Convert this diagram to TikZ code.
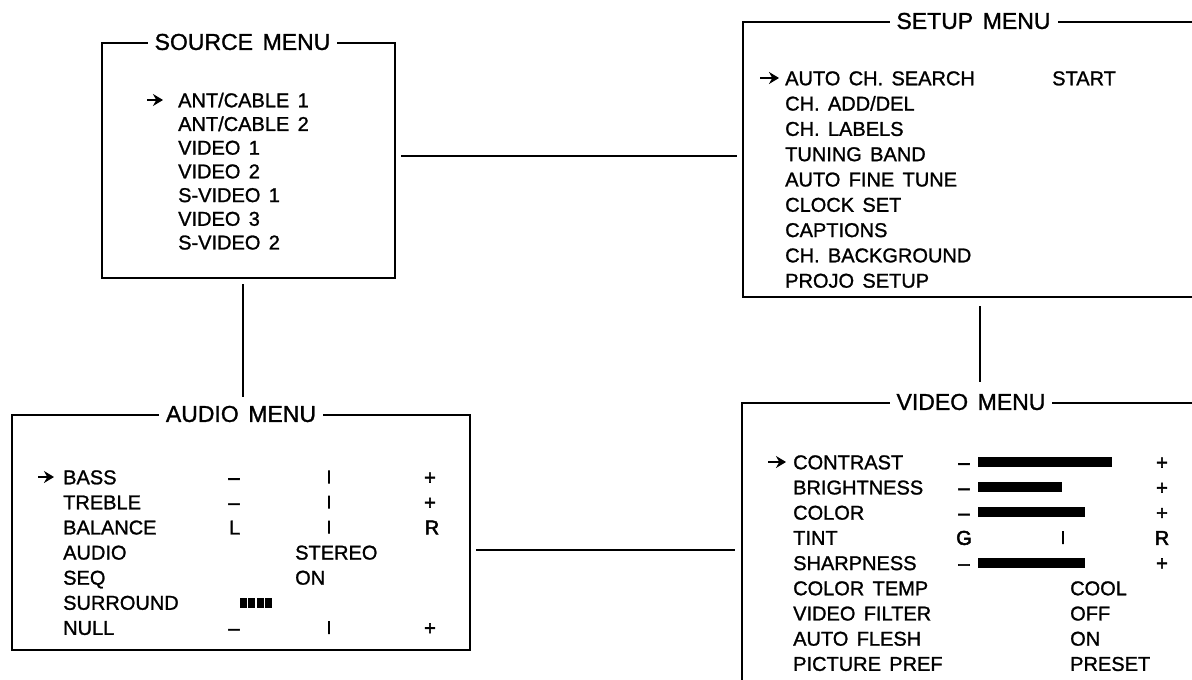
\documentclass[tikz,border=0pt]{standalone}
\usepackage{fontspec}
\setmainfont{Liberation Sans}
\newfontfamily\menufont{Liberation Sans}[FakeBold=1.2, WordSpace=1.5]
\newfontfamily\markfont{Liberation Sans}[FakeBold=2.6]
\newfontfamily\tickfont{Liberation Sans}[FakeBold=7]
\usetikzlibrary{arrows.meta,positioning,calc}

\begin{document}
\begin{tikzpicture}[
  x=1pt, y=-1pt,
  >=Stealth,
  menubox/.style={draw, line width=2pt, inner sep=0pt},
  menutitle/.style={fill=white, font=\menufont\fontsize{23}{23}\selectfont, inner xsep=7pt, inner ysep=2pt},
  item/.style={font=\menufont\fontsize{20}{20}\selectfont, inner sep=0pt, text height=14.5pt, text depth=0pt, anchor=west},
  scalemark/.style={font=\markfont\fontsize{20}{20}\selectfont, inner sep=0pt, text height=14.5pt, text depth=0pt},
  tickmark/.style={font=\tickfont\fontsize{13}{13}\selectfont, inner sep=0pt},
  link/.style={line width=1.6pt},
  pointer/.style={-{Stealth[length=10pt,width=12pt]}, line width=2.6pt}
]
  \clip (0,0) rectangle (1192,680);

  % Boxes
  \node (source) [menubox, minimum width=293pt, minimum height=235pt] at (248.5,160.5) {};
  \node (setup) [menubox, minimum width=467pt, minimum height=275pt] at (976.5,159.5) {};
  \node (audio) [menubox, minimum width=458pt, minimum height=235pt] at (241,532.5) {};
  \node (video) [menubox, minimum width=468pt, minimum height=297pt] at (976,551.5) {};

  % Titles
  \node (sourceT) [menutitle] at ([xshift=-6pt]source.north) {SOURCE MENU};
  \node (setupT) [menutitle] at ([xshift=-3pt]setup.north) {SETUP MENU};
  \node (audioT) [menutitle] at (audio.north) {AUDIO MENU};
  \node (videoT) [menutitle] at ([xshift=-5pt]video.north) {VIDEO MENU};

  % Links between menus
  \draw[link] ([shift={(5,-4.5)}]source.east) -- ([shift={(-5,-4.5)}]source.east -| setup.west);
  \draw[link] ([shift={(-5.5,5)}]source.south) -- ([shift={(-5.5,-17)}]source.south |- audio.north);
  \draw[link] ([shift={(3.5,8)}]setup.south) -- ([shift={(3.5,-20)}]setup.south |- video.north);
  \draw[link] ([shift={(5,-1.5)}]audio.east |- video.west) -- ([shift={(-6,-1.5)}]video.west);

  % Source menu
  \node (srcA) [item] at (178,100) {ANT/CABLE 1};
  \node (srcB) [item, below right=8.8pt and 0pt of srcA.south west] {ANT/CABLE 2};
  \node (srcC) [item, below right=8.8pt and 0pt of srcB.south west] {VIDEO 1};
  \node (srcD) [item, below right=8.8pt and 0pt of srcC.south west] {VIDEO 2};
  \node (srcE) [item, below right=8.8pt and 0pt of srcD.south west] {S-VIDEO 1};
  \node (srcF) [item, below right=8.8pt and 0pt of srcE.south west] {VIDEO 3};
  \node (srcG) [item, below right=8.8pt and 0pt of srcF.south west] {S-VIDEO 2};
  \draw[pointer] ([xshift=-31pt]srcA.west) -- ([xshift=-15pt]srcA.west);

  % Setup menu
  \node (supA) [item] at (785,78) {AUTO CH. SEARCH};
  \node (supB) [item, below right=10.4pt and 0pt of supA.south west] {CH. ADD/DEL};
  \node (supC) [item, below right=10.4pt and 0pt of supB.south west] {CH. LABELS};
  \node (supD) [item, below right=10.4pt and 0pt of supC.south west] {TUNING BAND};
  \node (supE) [item, below right=10.4pt and 0pt of supD.south west] {AUTO FINE TUNE};
  \node (supF) [item, below right=10.4pt and 0pt of supE.south west] {CLOCK SET};
  \node (supG) [item, below right=10.4pt and 0pt of supF.south west] {CAPTIONS};
  \node (supH) [item, below right=10.4pt and 0pt of supG.south west] {CH. BACKGROUND};
  \node (supI) [item, below right=10.4pt and 0pt of supH.south west] {PROJO SETUP};
  \node (start) [item] at (supA -| 1052,0) {START};
  \draw[pointer] ([xshift=-25pt]supA.west) -- ([xshift=-6pt]supA.west);

  % Audio menu
  \node (bass) [item] at (63,477) {BASS};
  \node (treble) [item, below right=10.2pt and 0pt of bass.south west] {TREBLE};
  \node (balance) [item, below right=10.2pt and 0pt of treble.south west] {BALANCE};
  \node (aud) [item, below right=10.2pt and 0pt of balance.south west] {AUDIO};
  \node (seq) [item, below right=10.2pt and 0pt of aud.south west] {SEQ};
  \node (surr) [item, below right=10.2pt and 0pt of seq.south west] {SURROUND};
  \node (null) [item, below right=10.2pt and 0pt of surr.south west] {NULL};
  \draw[pointer] ([xshift=-25pt]bass.west) -- ([xshift=-9pt]bass.west);

  \node (bassM) [scalemark] at (bass -| 234,0) {–};
  \node (bassC) [tickmark] at (bass -| 329,0) {|};
  \node (bassP) [scalemark] at (bass -| 430,0) {+};
  \node (trebM) [scalemark] at (treble -| 234,0) {–};
  \node (trebC) [tickmark] at (treble -| 329,0) {|};
  \node (trebP) [scalemark] at (treble -| 430,0) {+};
  \node (balL) [item] at (balance -| 229,0) {L};
  \node (balC) [tickmark] at (balance -| 329,0) {|};
  \node (balR) [scalemark] at (balance -| 432,0) {R};
  \node (stereo) [item] at (aud -| 295,0) {STEREO};
  \node (seqOn) [item] at (seq -| 295,0) {ON};
  \foreach \k in {0,...,3}
    \fill ($(surr -| 240,0)+(8.3*\k,-5)$) rectangle ++(7,10);
  \node (nullM) [scalemark] at (null -| 234,0) {–};
  \node (nullC) [tickmark] at (null -| 329,0) {|};
  \node (nullP) [scalemark] at (null -| 430,0) {+};

  % Video menu
  \node (con) [item] at (793,462) {CONTRAST};
  \node (bri) [item, below right=10.3pt and 0pt of con.south west] {BRIGHTNESS};
  \node (col) [item, below right=10.3pt and 0pt of bri.south west] {COLOR};
  \node (tint) [item, below right=10.3pt and 0pt of col.south west] {TINT};
  \node (sharp) [item, below right=10.3pt and 0pt of tint.south west] {SHARPNESS};
  \node (ctemp) [item, below right=10.3pt and 0pt of sharp.south west] {COLOR TEMP};
  \node (vfilt) [item, below right=10.3pt and 0pt of ctemp.south west] {VIDEO FILTER};
  \node (flesh) [item, below right=10.3pt and 0pt of vfilt.south west] {AUTO FLESH};
  \node (pref) [item, below right=10.3pt and 0pt of flesh.south west] {PICTURE PREF};
  \draw[pointer] ([xshift=-25pt]con.west) -- ([xshift=-7pt]con.west);

  \node (conM) [scalemark] at (con -| 964,0) {–};
  \node (conP) [scalemark] at (con -| 1162,0) {+};
  \node (briM) [scalemark] at (bri -| 964,0) {–};
  \node (briP) [scalemark] at (bri -| 1162,0) {+};
  \node (colM) [scalemark] at (col -| 964,0) {–};
  \node (colP) [scalemark] at (col -| 1162,0) {+};
  \node (tintG) [scalemark] at (tint -| 964,0) {G};
  \node (tintC) [tickmark] at (tint -| 1063,0) {|};
  \node (tintR) [scalemark] at (tint -| 1162,0) {R};
  \node (sharpM) [scalemark] at (sharp -| 964,0) {–};
  \node (sharpP) [scalemark] at (sharp -| 1162,0) {+};
  \fill ($(con -| 978,0)+(0,-5)$) rectangle ($(con -| 1112,0)+(0,5)$);
  \fill ($(bri -| 978,0)+(0,-5)$) rectangle ($(bri -| 1062,0)+(0,5)$);
  \fill ($(col -| 978,0)+(0,-5)$) rectangle ($(col -| 1085,0)+(0,5)$);
  \fill ($(sharp -| 978,0)+(0,-5)$) rectangle ($(sharp -| 1085,0)+(0,5)$);
  \node (cool) [item] at (ctemp -| 1070,0) {COOL};
  \node (off) [item] at (vfilt -| 1070,0) {OFF};
  \node (fleshOn) [item] at (flesh -| 1070,0) {ON};
  \node (preset) [item] at (pref -| 1070,0) {PRESET};
\end{tikzpicture}
\end{document}
